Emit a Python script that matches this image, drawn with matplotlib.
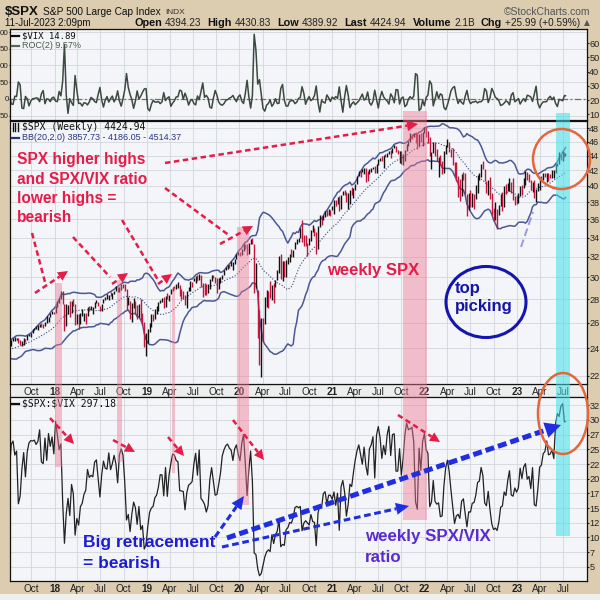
import matplotlib
matplotlib.use("Agg")
import matplotlib.pyplot as plt
import matplotlib.dates as mdates
import matplotlib.ticker as mticker
from matplotlib.patches import Rectangle, Ellipse, Polygon
from matplotlib.lines import Line2D
from matplotlib import transforms
import numpy as np
import pandas as pd

plt.rcParams['font.family'] = ['Liberation Sans', 'DejaVu Sans']

# ---------------- data (weekly, week ending Fridays from 2017-07-07, last = 2023-07-11) ----------------
first_week = "2017-07-07"
last_session = "2023-07-11"

# SPX weekly closes Feb 3 .. Jun 30 2017 (warm-up for BB(20,2))
spx_close_pre = [2297, 2316, 2351, 2367, 2383, 2372, 2378, 2344, 2363, 2355, 2329, 2349, 2384,
                 2399, 2391, 2382, 2416, 2439, 2432, 2433, 2438, 2423]
# VIX weekly closes Jun 23, Jun 30 2017 (warm-up for ROC(2))
vix_close_pre = [10.02, 11.18]

spx_close = [
    2425, 2459, 2472, 2472, 2477, 2441, 2426, 2443, 2477, 2461, 2500, 2502, 2519, 2549, 2553, 2575, 2581, 2588, 2582, 2579, 2602, 2642, 2652, 2675, 2683, 2674,
    2743, 2786, 2810, 2873, 2762, 2620, 2732, 2747, 2691, 2786, 2752, 2588, 2641, 2604, 2656, 2670, 2670, 2663, 2728, 2713, 2721, 2735, 2779, 2780, 2755, 2718,
    2760, 2801, 2802, 2819, 2840, 2833, 2850, 2875, 2902, 2872, 2905, 2930, 2914, 2886, 2767, 2768, 2659, 2723, 2781, 2736, 2633, 2760, 2633, 2600, 2417, 2486,
    2532, 2596, 2671, 2665, 2707, 2708, 2776, 2793, 2804, 2743, 2822, 2801, 2834, 2893, 2907, 2905, 2940, 2946, 2881, 2860, 2826, 2752, 2873, 2887, 2950, 2942,
    2990, 3014, 2977, 3026, 2932, 2919, 2889, 2847, 2926, 2979, 3007, 2992, 2962, 2952, 2970, 2986, 3023, 3067, 3093, 3120, 3110, 3141, 3146, 3169, 3221, 3240,
    3235, 3265, 3330, 3295, 3226, 3328, 3380, 3338, 2954, 2972, 2711, 2305, 2541, 2489, 2790, 2875, 2837, 2831, 2930, 2864, 2955, 3044, 3194, 3041, 3098, 3009,
    3130, 3185, 3225, 3216, 3271, 3351, 3373, 3397, 3508, 3427, 3341, 3319, 3298, 3348, 3477, 3484, 3465, 3270, 3510, 3585, 3558, 3638, 3699, 3663, 3709, 3703, 3756,
    3825, 3768, 3841, 3714, 3887, 3934, 3907, 3811, 3842, 3943, 3913, 3975, 4020, 4129, 4185, 4180, 4181, 4233, 4174, 4156, 4204, 4230, 4247, 4166, 4281,
    4352, 4370, 4327, 4412, 4395, 4437, 4468, 4442, 4509, 4535, 4459, 4433, 4455, 4357, 4391, 4471, 4545, 4605, 4698, 4683, 4698, 4595, 4538, 4712, 4620, 4726, 4766,
    4677, 4663, 4398, 4432, 4501, 4419, 4349, 4385, 4329, 4204, 4463, 4543, 4546, 4488, 4393, 4272, 4132, 4123, 4024, 3901, 4158, 4109, 3901, 3675, 3912,
    3825, 3899, 3863, 3962, 4130, 4145, 4280, 4228, 4058, 3924, 4067, 3873, 3693, 3586, 3640, 3583, 3753, 3901, 3771, 3993, 3965, 4026, 4072, 3934, 3852, 3845, 3840,
    3895, 3999, 3973, 4071, 4136, 4090, 4079, 3970, 4046, 3862, 3917, 3971, 4109, 4105, 4138, 4133, 4169, 4136, 4124, 4192, 4205, 4282, 4299, 4410, 4348, 4450,
    4399, 4424.94]

spx_high = [
    2433, 2463, 2477, 2484, 2480, 2481, 2466, 2456, 2480, 2471, 2501, 2508, 2520, 2552, 2557, 2576, 2582, 2588, 2597, 2591, 2605, 2657, 2652, 2680, 2695, 2692,
    2743, 2787, 2810, 2873, 2870, 2763, 2755, 2747, 2789, 2787, 2802, 2761, 2675, 2672, 2680, 2718, 2683, 2682, 2732, 2743, 2742, 2737, 2779, 2790, 2774, 2743,
    2762, 2804, 2816, 2848, 2841, 2863, 2856, 2877, 2916, 2906, 2906, 2941, 2940, 2939, 2894, 2817, 2786, 2767, 2815, 2782, 2747, 2760, 2800, 2685, 2607, 2520,
    2553, 2597, 2675, 2672, 2716, 2738, 2776, 2795, 2813, 2817, 2830, 2860, 2836, 2894, 2911, 2917, 2940, 2954, 2931, 2892, 2874, 2841, 2876, 2911, 2964, 2958,
    2996, 3014, 3018, 3028, 3027, 2945, 2943, 2939, 2940, 2985, 3021, 3022, 3002, 2993, 2993, 3008, 3027, 3067, 3097, 3120, 3127, 3154, 3150, 3183, 3226, 3248,
    3247, 3282, 3330, 3337, 3333, 3347, 3385, 3393, 3337, 3137, 2882, 2711, 2637, 2641, 2819, 2880, 2871, 2965, 2933, 2945, 2980, 3068, 3212, 3233, 3155, 3154,
    3166, 3198, 3233, 3279, 3272, 3352, 3387, 3399, 3509, 3588, 3425, 3428, 3342, 3397, 3482, 3534, 3502, 3465, 3521, 3645, 3628, 3645, 3699, 3712, 3726, 3711, 3760,
    3827, 3823, 3862, 3870, 3888, 3937, 3951, 3929, 3915, 3944, 3984, 3978, 4021, 4130, 4191, 4194, 4218, 4238, 4237, 4191, 4218, 4234, 4249, 4262, 4286,
    4355, 4372, 4394, 4415, 4429, 4440, 4468, 4481, 4513, 4545, 4537, 4486, 4466, 4465, 4429, 4475, 4559, 4608, 4718, 4708, 4718, 4744, 4705, 4713, 4731, 4740, 4808,
    4819, 4749, 4664, 4453, 4595, 4589, 4490, 4385, 4416, 4327, 4465, 4546, 4637, 4593, 4487, 4513, 4308, 4307, 4130, 4091, 4159, 4177, 4169, 3905, 3913,
    3946, 3918, 3906, 4012, 4140, 4167, 4280, 4325, 4218, 4062, 4076, 4119, 3907, 3736, 3806, 3718, 3762, 3906, 3919, 4000, 4029, 4034, 4101, 4052, 4101, 3878, 3878,
    3907, 4003, 4015, 4095, 4195, 4176, 4153, 4081, 4048, 4079, 3964, 4040, 4110, 4133, 4164, 4170, 4171, 4170, 4155, 4212, 4212, 4290, 4299, 4448, 4408, 4458,
    4456, 4430.83]

spx_low = [
    2407, 2416, 2453, 2459, 2462, 2437, 2424, 2417, 2428, 2446, 2465, 2496, 2488, 2520, 2543, 2547, 2544, 2566, 2566, 2557, 2577, 2598, 2605, 2645, 2673, 2673,
    2682, 2737, 2768, 2803, 2759, 2533, 2574, 2675, 2647, 2681, 2742, 2585, 2594, 2553, 2587, 2660, 2612, 2594, 2655, 2702, 2707, 2676, 2727, 2764, 2743, 2698,
    2698, 2770, 2795, 2800, 2795, 2830, 2802, 2846, 2876, 2864, 2866, 2886, 2904, 2874, 2710, 2750, 2628, 2603, 2722, 2670, 2631, 2649, 2622, 2583, 2409, 2346,
    2444, 2524, 2570, 2612, 2631, 2677, 2703, 2764, 2775, 2728, 2734, 2799, 2784, 2849, 2873, 2891, 2889, 2900, 2825, 2801, 2805, 2750, 2728, 2874, 2874, 2913,
    2964, 2952, 2970, 2977, 2914, 2822, 2840, 2834, 2853, 2891, 2964, 2990, 2946, 2856, 2892, 2952, 2984, 3018, 3066, 3078, 3091, 3110, 3070, 3126, 3183, 3219,
    3212, 3214, 3263, 3281, 3214, 3234, 3335, 3328, 2855, 2901, 2478, 2280, 2192, 2447, 2593, 2730, 2728, 2815, 2798, 2766, 2909, 2977, 3045, 2984, 2966, 3000,
    3000, 3128, 3151, 3202, 3200, 3284, 3328, 3357, 3398, 3349, 3310, 3314, 3209, 3322, 3361, 3459, 3419, 3234, 3279, 3511, 3543, 3594, 3630, 3634, 3647, 3636, 3710,
    3662, 3750, 3777, 3694, 3725, 3885, 3885, 3805, 3724, 3784, 3886, 3853, 3951, 4020, 4121, 4118, 4177, 4152, 4056, 4061, 4156, 4180, 4218, 4164, 4165,
    4271, 4321, 4322, 4234, 4385, 4378, 4420, 4368, 4435, 4502, 4455, 4427, 4306, 4289, 4279, 4323, 4463, 4537, 4595, 4631, 4672, 4586, 4495, 4532, 4600, 4531, 4720,
    4662, 4582, 4396, 4223, 4435, 4402, 4328, 4115, 4279, 4157, 4161, 4424, 4517, 4450, 4381, 4267, 4124, 4063, 3859, 3811, 3876, 4074, 3900, 3637, 3705,
    3738, 3742, 3722, 3837, 3911, 4079, 4112, 4218, 4057, 3907, 3886, 3838, 3647, 3584, 3591, 3491, 3647, 3752, 3698, 3745, 3906, 3940, 3938, 3918, 3828, 3765, 3784,
    3794, 3877, 3885, 3969, 4015, 4079, 4047, 3944, 3928, 3847, 3809, 3937, 3951, 4069, 4073, 4114, 4049, 4062, 4099, 4099, 4103, 4166, 4259, 4292, 4337, 4328,
    4385, 4389.92]

vix_close = [
    11.19, 9.51, 9.36, 10.29, 10.03, 15.51, 14.26, 11.28, 10.13, 12.12, 10.17, 9.59, 9.51, 9.65, 9.61, 9.97, 9.80, 9.14, 11.29, 11.43, 9.67, 11.43, 9.58, 10.49, 9.90, 11.04,
    9.22, 10.16, 11.27, 11.08, 17.31, 29.06, 19.46, 16.49, 19.59, 14.64, 15.80, 24.87, 19.97, 21.49, 17.41, 16.88, 15.41, 14.77, 12.65, 13.42, 13.22, 13.46, 12.18, 11.98, 13.77, 16.09,
    13.37, 12.18, 12.86, 13.03, 11.64, 13.16, 12.64, 11.99, 12.86, 14.88, 12.07, 11.68, 12.12, 14.82, 21.31, 19.89, 24.16, 19.51, 17.36, 18.14, 21.52, 18.07, 23.23, 21.63, 30.11, 28.34,
    21.38, 18.19, 17.80, 17.42, 16.14, 15.72, 14.91, 13.51, 13.57, 16.05, 12.88, 16.48, 13.71, 12.82, 12.01, 12.09, 12.73, 12.87, 16.04, 15.96, 15.85, 18.71, 16.30, 15.28, 15.40, 15.08,
    13.28, 12.39, 14.45, 12.16, 17.61, 17.97, 18.47, 19.87, 18.98, 15.00, 13.74, 15.32, 17.22, 17.04, 15.58, 14.25, 12.65, 12.30, 12.07, 12.05, 12.34, 12.62, 13.62, 12.63, 12.51, 13.43,
    14.02, 12.56, 12.10, 14.56, 18.84, 15.47, 13.68, 17.08, 40.11, 41.94, 57.83, 66.04, 65.54, 46.80, 41.67, 38.15, 35.93, 37.19, 27.98, 31.89, 28.16, 27.51, 24.52, 36.09, 35.12, 34.73,
    27.68, 27.29, 25.68, 25.84, 24.46, 22.21, 22.05, 22.54, 22.96, 30.75, 26.87, 25.83, 26.38, 27.63, 25.00, 27.41, 27.55, 38.02, 24.86, 23.10, 23.70, 20.84, 20.79, 23.31, 21.57, 21.53, 22.75,
    21.56, 24.34, 21.91, 33.09, 20.87, 19.97, 22.05, 27.95, 24.66, 20.69, 20.95, 18.86, 17.33, 16.69, 16.25, 17.33, 18.61, 16.69, 18.81, 20.15, 16.76, 16.42, 15.65, 20.70, 15.62,
    15.07, 16.18, 18.45, 17.20, 18.24, 16.15, 15.45, 18.56, 16.39, 16.41, 20.95, 20.81, 17.75, 21.15, 18.77, 16.30, 15.43, 16.26, 16.48, 16.29, 17.91, 28.62, 30.67, 18.69, 21.57, 17.96, 17.22,
    18.76, 19.19, 28.85, 27.66, 22.86, 27.36, 27.75, 27.59, 31.98, 30.75, 23.87, 20.81, 19.63, 21.16, 24.37, 28.21, 33.40, 30.19, 28.87, 29.43, 25.72, 24.79, 27.75, 31.13, 27.23,
    26.70, 24.64, 24.23, 23.03, 21.33, 21.15, 19.53, 20.60, 25.56, 25.47, 22.79, 26.30, 29.92, 31.62, 31.36, 32.02, 29.69, 25.75, 24.55, 22.52, 23.12, 20.50, 19.06, 22.83, 22.62, 20.87, 21.67,
    21.13, 18.35, 19.85, 18.51, 18.33, 20.53, 20.02, 21.67, 18.49, 24.80, 25.51, 21.74, 18.70, 18.40, 17.07, 16.77, 15.78, 17.19, 17.03, 16.81, 17.95, 14.60, 13.83, 14.41, 13.44, 13.59,
    14.83, 14.89]

assert len(spx_close) == len(spx_high) == len(spx_low) == len(vix_close)

# axis ticks and the label text visible in the (edge-cropped) reference
main_ticks = [2200, 2400, 2600, 2800, 3000, 3200, 3400, 3600, 3800, 4000, 4200, 4400, 4600, 4800]
main_tick_labels = ["22", "24", "26", "28", "30", "32", "34", "36", "38", "40", "42", "44", "46", "48"]
ratio_ticks = [50, 75, 100, 125, 150, 175, 200, 225, 250, 275, 300, 325]
ratio_tick_labels = ["5", "7", "10", "12", "15", "17", "20", "22", "25", "27", "30", "32"]
roc_ticks = [-50, 0, 50, 100, 150, 200]
roc_tick_labels = ["50", "0", "50", "00", "50", "00"]
vix_ticks = [10, 20, 30, 40, 50, 60]
vix_tick_labels = ["10", "20", "30", "40", "50", "60"]

# ---------------- derived series ----------------
dates = list(pd.date_range(first_week, periods=len(spx_close) - 1, freq="W-FRI")) + [pd.Timestamp(last_session)]
x = mdates.date2num(dates)
closes_all = pd.Series(spx_close_pre + spx_close, dtype=float)
npre = len(spx_close_pre)
mid = closes_all.rolling(20).mean().to_numpy()[npre:]
sd = closes_all.rolling(20).std(ddof=0).to_numpy()[npre:]
upper, lower = mid + 2 * sd, mid - 2 * sd
vix_all = np.array(vix_close_pre + vix_close, dtype=float)
roc = (vix_all[2:] / vix_all[:-2] - 1.0) * 100.0
ratio = np.array(spx_close, dtype=float) / np.array(vix_close, dtype=float)
prev_close = np.array([spx_close_pre[-1]] + spx_close[:-1], dtype=float)
bar_cols = np.where(np.array(spx_close) >= prev_close, '#111111', '#c4163c')

# ---------------- figure ----------------
TAN = '#dccdb0'
PANEL = '#f4f5f9'
GRID = '#d2d6dd'
fig = plt.figure(figsize=(6, 6), dpi=100)
fig.patch.set_facecolor(TAN)

def fy(py):
    return 1 - py / 600.0

def panel(x0, y0, x1, y1):
    ax = fig.add_axes([x0 / 600, 1 - y1 / 600, (x1 - x0) / 600, (y1 - y0) / 600])
    ax.set_facecolor(PANEL)
    for s in ax.spines.values():
        s.set_linewidth(0.9)
        s.set_color('#111111')
    ax.set_axisbelow(True)
    return ax

ax_top = panel(10, 29, 587, 120)
ax_main = panel(10, 121, 587, 384)
ax_rat = panel(10, 397, 587, 581)

xlim = (mdates.date2num(pd.Timestamp("2017-07-09")), mdates.date2num(pd.Timestamp("2023-10-04")))
qdates = pd.date_range("2017-10-01", "2023-07-01", freq="QS-JAN")
qx = mdates.date2num(qdates)
qlab = [f"{d.year % 100:02d}" if d.month == 1 else d.strftime("%b") for d in qdates]

for ax in (ax_top, ax_main, ax_rat):
    ax.set_xlim(*xlim)
    ax.set_xticks(qx)
    ax.set_xticklabels(qlab)
    ax.tick_params(axis='x', length=0, pad=2, labelsize=7.2, colors='#222222')
    ax.grid(True, color=GRID, lw=0.6)
    for lab, d in zip(ax.get_xticklabels(), qdates):
        if d.month == 1:
            lab.set_fontweight('bold')
ax_top.tick_params(axis='x', labelbottom=False)

RIGHT_TICK = dict(axis='y', length=1.2, width=0.8, pad=0.4, labelsize=6.6, colors='#222222')

# top panel: ROC(2) of VIX
ax_top.set_ylim(-63, 209)
ax_top.set_yticks(roc_ticks)
ax_top.set_yticklabels(roc_tick_labels)
ax_top.tick_params(axis='y', length=0.8, width=0.8, pad=0.0, labelsize=5.8, colors='#222222')
ax_top.axhline(0, color='#8a6464', lw=0.9, ls=(0, (5, 2, 1.5, 2)))
ax_top.plot(x, roc, color='#3b4a3e', lw=1.1)
ax_topr = ax_top.twinx()
ax_topr.set_xlim(*xlim)
ax_topr.set_ylim(6, 70)
ax_topr.set_yticks(vix_ticks)
ax_topr.set_yticklabels(vix_tick_labels)
ax_topr.tick_params(**RIGHT_TICK)
for s in ax_topr.spines.values():
    s.set_visible(False)

# main panel: weekly SPX bars + BB
ax_main.set_yscale('log')
ax_main.set_ylim(2145, 4907)
ax_main.set_yticks(main_ticks)
ax_main.set_yticklabels(main_tick_labels)
ax_main.yaxis.set_minor_locator(mticker.NullLocator())
ax_main.yaxis.tick_right()
ax_main.tick_params(**RIGHT_TICK)
ax_main.plot(x, upper, color='#4c5796', lw=1.1)
ax_main.plot(x, lower, color='#4c5796', lw=1.1)
ax_main.plot(x, mid, color='#3c4476', lw=0.8, ls=(0, (1, 1.6)))
ax_main.vlines(x, spx_low, spx_high, colors=bar_cols, lw=1.0)

# ratio panel
ax_rat.set_ylim(26, 339)
ax_rat.set_yticks(ratio_ticks)
ax_rat.set_yticklabels(ratio_tick_labels)
ax_rat.yaxis.tick_right()
ax_rat.tick_params(**RIGHT_TICK)
ax_rat.plot(x, ratio, color='#222222', lw=0.9)

# strip between main and ratio panels, bottom light strip
fig.add_artist(Rectangle((10 / 600, fy(397)), 577 / 600, 13 / 600, transform=fig.transFigure,
                         fc='#eceeee', ec='#222222', lw=0.8, zorder=-1))
fig.add_artist(Rectangle((0, 0), 1, 6 / 600, transform=fig.transFigure, fc='#f1efe9', lw=0, zorder=-1))

# ---------------- header ----------------
def text_run(pieces, xpix, ypix, align='left'):
    r = fig.canvas.get_renderer()
    made = []
    for s, kw, gap in pieces:
        t = fig.text(0, 0, s, va='center', ha='left', parse_math=False, **kw)
        w = t.get_window_extent(renderer=r).width
        made.append((t, w, gap))
    total = sum(w + g for _, w, g in made) - made[-1][2]
    cur = xpix - total if align == 'right' else xpix
    for t, w, g in made:
        t.set_position((cur / 600, fy(ypix)))
        cur += w + g

text_run([("$SPX", dict(fontsize=9.5, fontweight='bold', color='#111111'), 4),
          ("S&P 500 Large Cap Index", dict(fontsize=7.3, color='#111111'), 5),
          ("INDX", dict(fontsize=6, color='#333333'), 0)], 5, 12)
fig.text(590 / 600, fy(12), "\u00a9StockCharts.com", ha='right', va='center', fontsize=7.5, color='#555555')
fig.text(5 / 600, fy(23), "11-Jul-2023 2:09pm", ha='left', va='center', fontsize=7, color='#111111')
B = dict(fontsize=7.8, fontweight='bold', color='#111111')
N = dict(fontsize=7.2, color='#222222')
text_run([("Open", B, 3), ("4394.23", N, 6), ("High", B, 3), ("4430.83", N, 6), ("Low", B, 3), ("4389.92", N, 6),
          ("Last", B, 3), ("4424.94", N, 6), ("Volume", B, 3), ("2.1B", N, 6), ("Chg", B, 3),
          ("+25.99 (+0.59%)", N, 4), ("\u25b2", dict(fontsize=5.5, color='#555555', family='DejaVu Sans'), 0)],
         590, 23, align='right')

# ---------------- legends ----------------
def leg_line(ypix, color):
    fig.add_artist(Line2D([12 / 600, 19 / 600], [fy(ypix), fy(ypix)], transform=fig.transFigure, color=color, lw=1.6))

MONO = 'DejaVu Sans Mono'
leg_line(36, '#111111')
fig.text(22 / 600, fy(36), "$VIX 14.89", va='center', fontsize=6.5, family=MONO, color='#111111', parse_math=False)
leg_line(46, '#5a6a5a')
fig.text(22 / 600, fy(46), "ROC(2) 9.57%", va='center', fontsize=6.5, color='#4a5a4a', parse_math=False)
for dx in (12.5, 15, 17.5):
    fig.add_artist(Line2D([dx / 600, dx / 600], [fy(131), fy(123)], transform=fig.transFigure, color='#111111', lw=1.0))
fig.text(22 / 600, fy(127), "$SPX (Weekly) 4424.94", va='center', fontsize=7, family=MONO, color='#111111', parse_math=False)
leg_line(138, '#2a3580')
fig.text(22 / 600, fy(138), "BB(20,2.0) 3857.73 - 4186.05 - 4514.37", va='center', fontsize=6.5, color='#2a3580', parse_math=False)
leg_line(404, '#111111')
fig.text(22 / 600, fy(404), "$SPX:$VIX 297.18", va='center', fontsize=7, family=MONO, color='#111111', parse_math=False)

# ---------------- highlighted periods ----------------
trans = transforms.blended_transform_factory(ax_main.transData, fig.transFigure)
pink_spans = [("2018-01-01", "2018-02-01", 283, 467), ("2018-09-06", "2018-09-26", 280, 462),
              ("2019-04-08", "2019-04-20", 288, 473), ("2019-12-24", "2020-02-09", 227, 505),
              ("2021-10-08", "2022-01-12", 111, 520)]
for d0, d1, y0, y1 in pink_spans:
    a, b = mdates.date2num(pd.Timestamp(d0)), mdates.date2num(pd.Timestamp(d1))
    fig.add_artist(Rectangle((a, fy(y1)), b - a, (y1 - y0) / 600, transform=trans,
                             fc='#ef7a95', alpha=0.45, lw=0, zorder=5))
a, b = mdates.date2num(pd.Timestamp("2023-06-04")), mdates.date2num(pd.Timestamp("2023-07-29"))
fig.add_artist(Rectangle((a, fy(536)), b - a, (536 - 113) / 600, transform=trans,
                         fc='#3fe0e8', alpha=0.55, lw=0, zorder=5))

# ---------------- annotations ----------------
def arrow(x0, y0, x1, y1, color, lw, dash, head=True, hl=10, hw=10):
    dx, dy = x1 - x0, y1 - y0
    L = np.hypot(dx, dy)
    ux, uy = dx / L, dy / L
    bx, by = (x1 - ux * hl, y1 - uy * hl) if head else (x1, y1)
    fig.add_artist(Line2D([x0 / 600, bx / 600], [fy(y0), fy(by)], transform=fig.transFigure,
                          color=color, lw=lw, ls=(0, dash), dash_capstyle='butt', zorder=6))
    if head:
        px_, py_ = -uy, ux
        pts = [(x1, y1), (bx + px_ * hw / 2, by + py_ * hw / 2), (bx - px_ * hw / 2, by - py_ * hw / 2)]
        fig.add_artist(Polygon([(p / 600, fy(q)) for p, q in pts], closed=True, transform=fig.transFigure,
                               fc=color, lw=0, zorder=6))

RED = '#e51c48'
RD = (2.2, 1.4)
arrow(32, 233, 45, 282, RED, 1.8, RD, head=False)
arrow(35, 293, 68, 271, RED, 1.8, RD)
arrow(73, 237, 110, 277, RED, 1.8, RD, head=False)
arrow(112, 284, 128, 273, RED, 1.8, RD)
arrow(122, 220, 158, 280, RED, 1.8, RD, head=False)
arrow(158, 284, 172, 274, RED, 1.8, RD)
arrow(165, 188, 230, 236, RED, 1.8, RD, head=False)
arrow(220, 244, 253, 226, RED, 1.8, RD)
arrow(165, 163, 418, 124, RED, 1.8, RD, hl=11, hw=11)
arrow(50, 418, 74, 444, RED, 1.8, RD)
arrow(113, 440, 135, 452, RED, 1.8, RD)
arrow(168, 437, 184, 456, RED, 1.8, RD)
arrow(233, 420, 264, 460, RED, 1.8, RD)
arrow(398, 415, 440, 442, RED, 1.8, RD)

BLUE = '#1f2ee0'
arrow(227, 538, 561, 425, BLUE, 3.6, (1.8, 0.8), hl=16, hw=16)
arrow(222, 547, 409, 506, BLUE, 2.2, (2.2, 1.2), hl=13, hw=12)
arrow(215, 537, 244, 496, BLUE, 2.2, (2.2, 1.2), hl=13, hw=12)
fig.add_artist(Line2D([521 / 600, 533 / 600], [fy(247), fy(212)], transform=fig.transFigure,
                      color='#9b9bd6', lw=1.4, ls=(0, (4, 2)), zorder=6))

for i, s in enumerate(["SPX higher highs", "and SPX/VIX ratio", "lower highs =", "bearish"]):
    fig.text(17 / 600, fy(160 + 19 * i), s, ha='left', va='center', fontsize=11.2, fontweight='bold', color=RED, zorder=7)
fig.text(327 / 600, fy(270), "weekly SPX", ha='left', va='center', fontsize=12, fontweight='bold', color=RED, zorder=7)
fig.text(83 / 600, fy(543), "Big retracement", ha='left', va='center', fontsize=12.5, fontweight='bold', color='#1c1cd2', zorder=7)
fig.text(83 / 600, fy(563), "= bearish", ha='left', va='center', fontsize=12.5, fontweight='bold', color='#1c1cd2', zorder=7)
fig.text(365 / 600, fy(537), "weekly SPX/VIX", ha='left', va='center', fontsize=12.2, fontweight='bold', color='#5a2bd0', zorder=7)
fig.text(365 / 600, fy(557), "ratio", ha='left', va='center', fontsize=12.2, fontweight='bold', color='#5a2bd0', zorder=7)
fig.text(455 / 600, fy(288), "top", ha='left', va='center', fontsize=12, fontweight='bold', color='#1515a5', zorder=7)
fig.text(455 / 600, fy(307), "picking", ha='left', va='center', fontsize=12, fontweight='bold', color='#1515a5', zorder=7)

fig.add_artist(Ellipse((486 / 600, fy(302)), 80 / 600, 71 / 600, transform=fig.transFigure, fill=False, ec='#1414b0', lw=2.2, zorder=7))
fig.add_artist(Ellipse((561.5 / 600, fy(159)), 57 / 600, 60 / 600, transform=fig.transFigure, fill=False, ec='#e2683c', lw=1.8, zorder=7))
fig.add_artist(Ellipse((563 / 600, fy(413.5)), 50 / 600, 81 / 600, transform=fig.transFigure, fill=False, ec='#e2683c', lw=1.8, zorder=7))

fig.savefig("out.png", dpi=100, facecolor=fig.get_facecolor())
